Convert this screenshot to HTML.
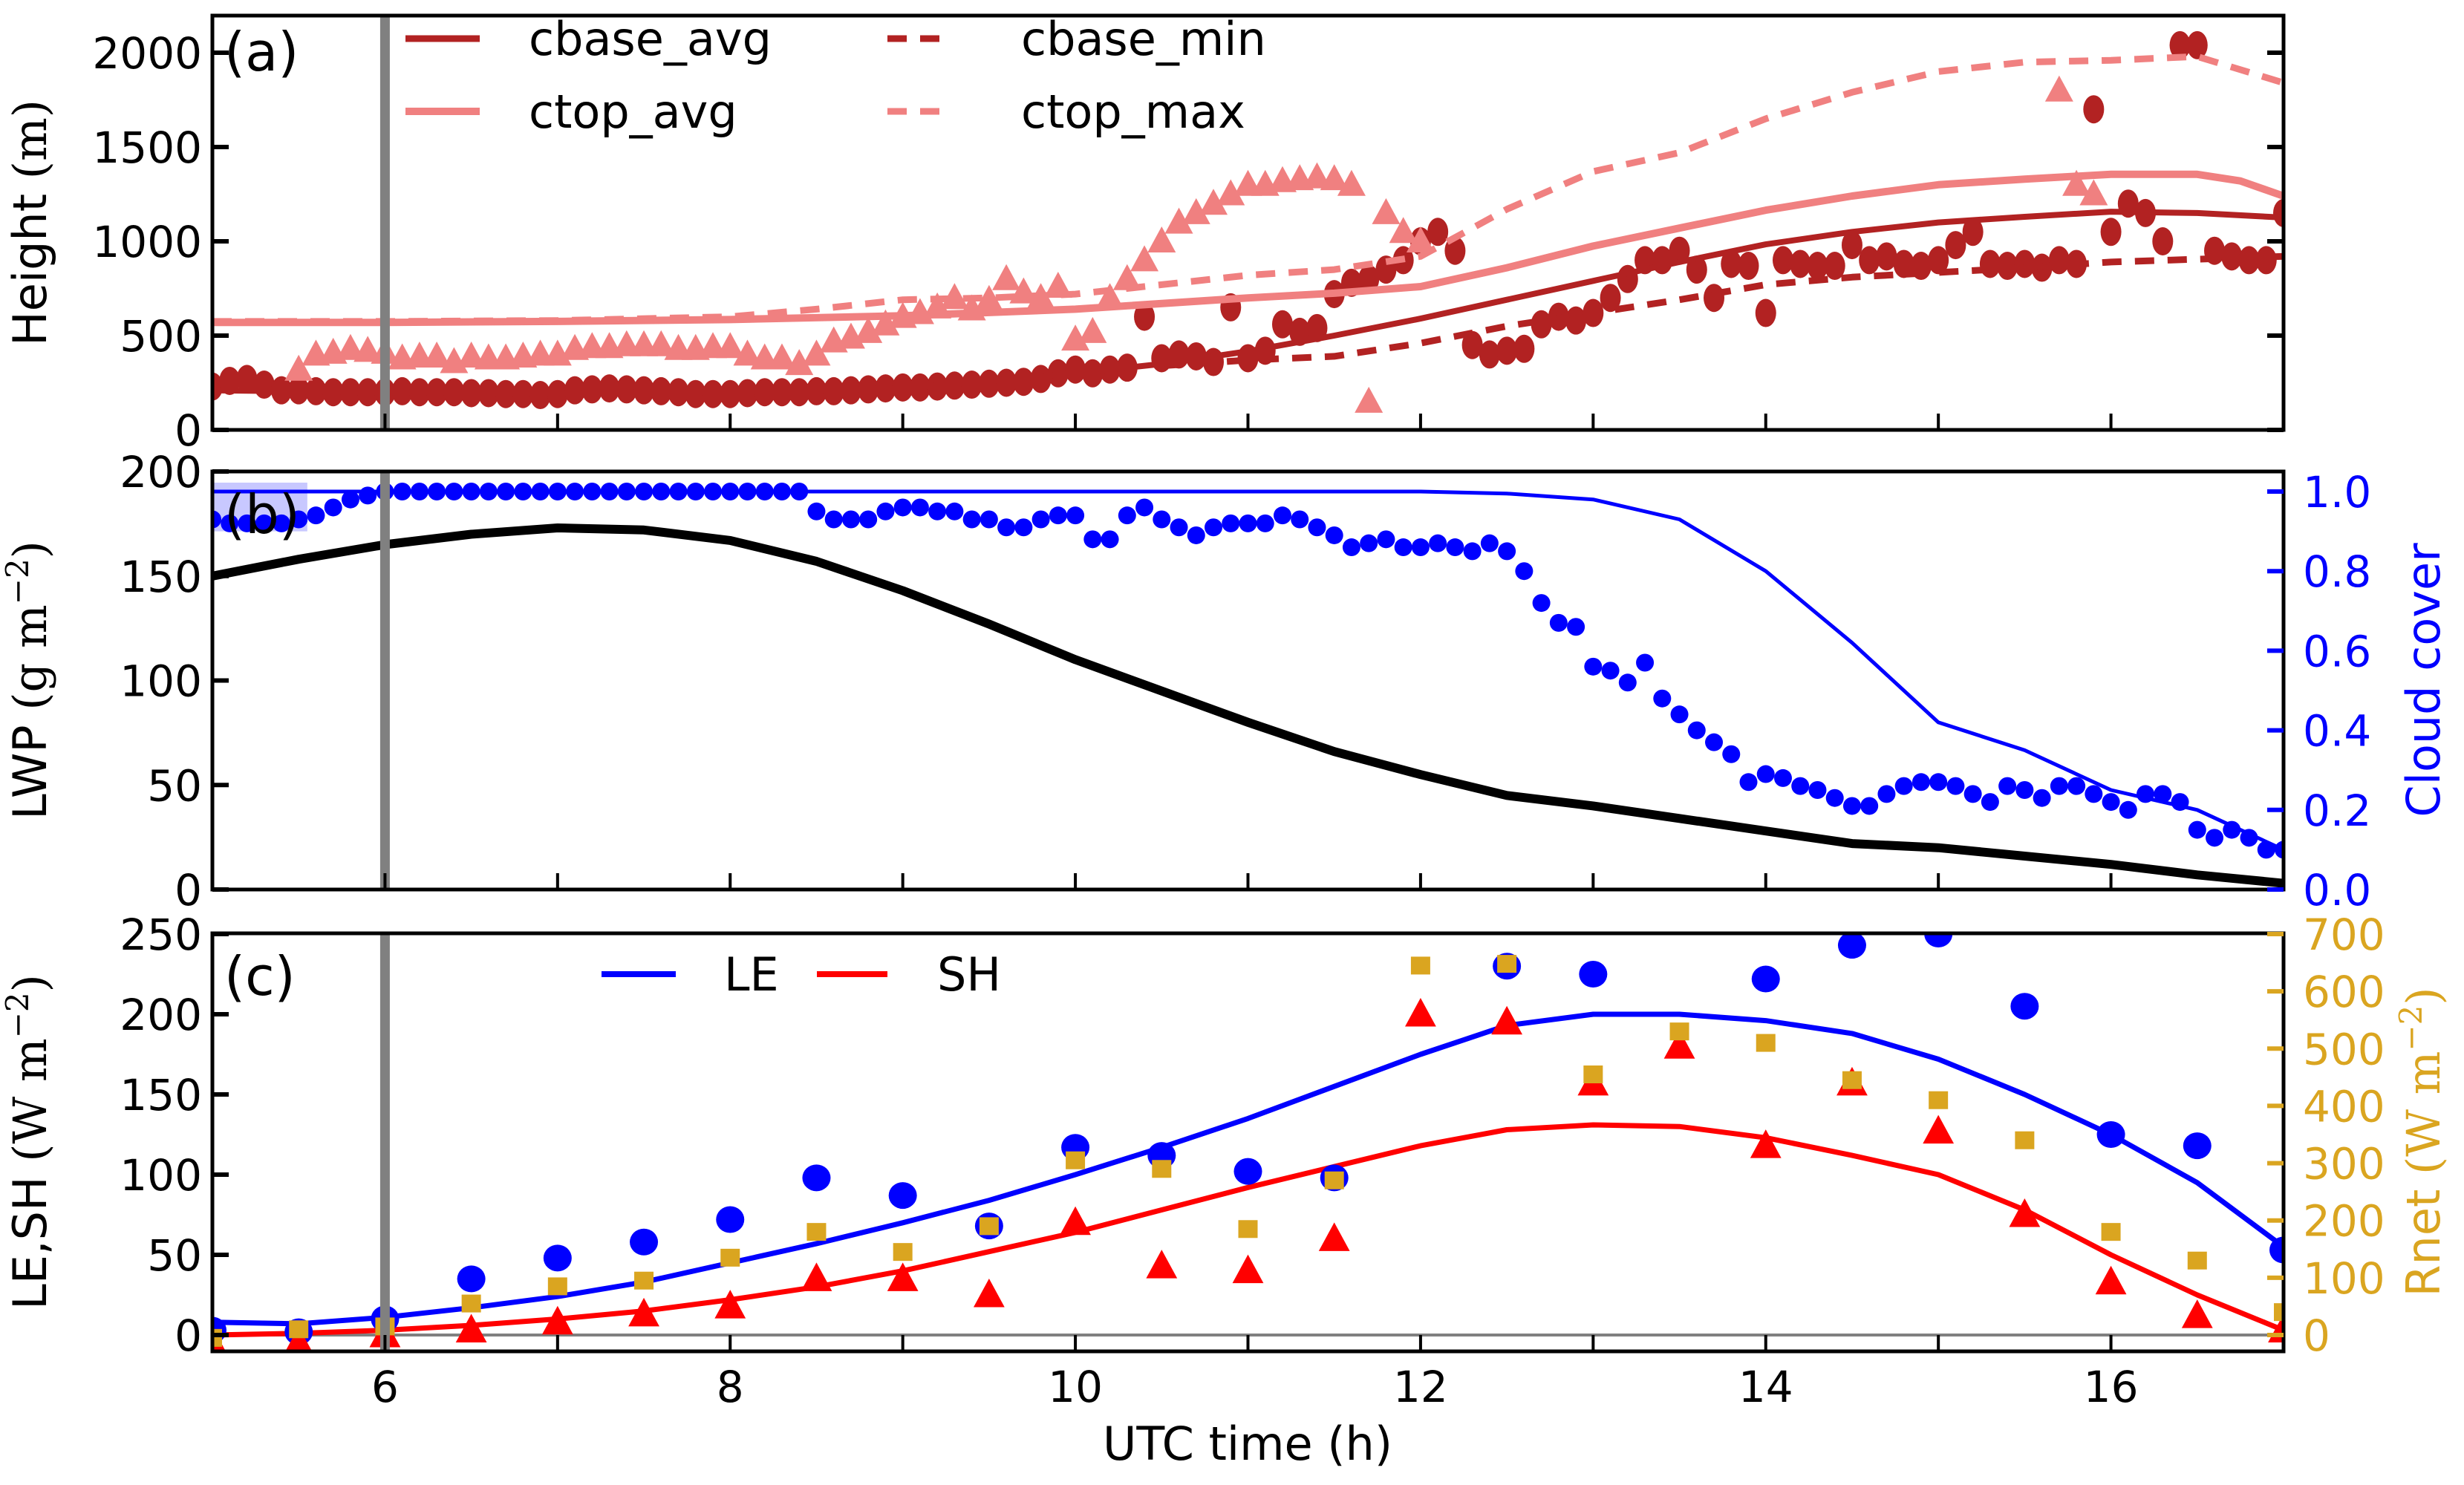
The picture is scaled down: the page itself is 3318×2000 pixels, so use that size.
<!DOCTYPE html>
<html><head><meta charset="utf-8">
<style>
html,body{margin:0;padding:0;background:#fff;}
svg{display:block;font-family:"DejaVu Sans","Liberation Sans",sans-serif;}
</style></head>
<body>
<svg id="chart" width="3318" height="2000" viewBox="0 0 3318 2000" xmlns="http://www.w3.org/2000/svg"></svg>
<script>
// ---------- DATA ----------
const hourlyTimes=[5,5.5,6,6.5,7,7.5,8,8.5,9,9.5,10,10.5,11,11.5,12,12.5,13,13.5,14,14.5,15,15.5,16,16.5,17];
// panel a
const cbaseAvgT=[5,6,7,8,9,10,10.5,11,11.5,12,12.5,13,13.5,14,14.5,15,15.5,16,16.5,17];
const cbaseAvgV=[210,200,195,200,220,300,350,417,500,590,690,790,890,984,1050,1100,1130,1157,1150,1126];
const ctopAvgT=[5,6,7,8,9,10,11,11.5,12,12.5,13,13.5,14,14.5,15,15.5,16,16.5,16.75,17];
const ctopAvgV=[570,570,575,585,605,640,700,725,760,860,975,1070,1165,1240,1300,1330,1355,1355,1320,1240];
const cbaseMinT=[10.5,11,11.5,12,12.5,13,13.5,14,14.5,15,15.5,16,16.5,17];
const cbaseMinV=[340,370,390,460,550,620,690,770,810,835,860,890,905,920];
const ctopMaxT=[5,6,7,8,8.5,9,9.5,10,10.5,11,11.5,12,12.5,13,13.5,14,14.5,15,15.5,16,16.5,17];
const ctopMaxV=[575,575,580,600,640,690,700,720,770,820,850,920,1170,1370,1470,1650,1790,1900,1950,1960,1980,1840];
// scatter every 0.1 h from 5.0
const cbasePts=[230,260,270,240,210,210,205,200,200,200,
 200,205,200,200,200,195,195,190,190,185,
 190,210,215,220,215,210,205,200,190,190,
 190,195,200,200,200,205,205,210,215,220,
 225,225,230,235,240,245,250,255,270,300,
 320,300,320,330,600,380,400,390,360,650,
 380,420,560,520,540,720,780,800,850,900,
 1000,1050,950,450,400,420,430,560,600,580,
 620,700,800,900,900,950,850,700,880,870,
 620,900,880,870,870,980,900,920,880,870,
 900,980,1050,880,870,880,860,900,880,1700,
 1050,1200,1150,1000,2040,2040,950,920,900,900,1150];
const ctopPts=[null,null,null,null,null,320,400,410,430,420,
 410,380,390,390,360,390,380,380,390,400,
 400,430,440,440,450,450,450,430,430,440,
 440,400,380,380,350,400,470,490,520,560,
 600,620,650,700,640,690,800,730,700,760,
 480,520,700,800,900,1000,1100,1150,1200,1250,
 1300,1300,1320,1330,1340,1330,1300,150,1150,1050,
 1000,null,null,null,null,null,null,null,null,null,
 null,null,null,null,null,null,null,null,null,null,
 null,null,null,null,null,null,null,null,null,null,
 null,null,null,null,null,null,null,1800,1300,1250,
 null,null,null,null,null,null,null,null,null,null,null];
// panel b
const lwpT=[5,5.5,6,6.5,7,7.5,8,8.5,9,9.5,10,10.5,11,11.5,12,12.5,13,13.5,14,14.5,15,15.5,16,16.5,17];
const lwpV=[150,158,165,170,173,172,167,157,143,127,110,95,80,66,55,45,40,34,28,22,20,16,12,7,3];
const ccLineT=[5,12,12.5,13,13.5,14,14.5,15,15.5,16,16.5,17];
const ccLineV=[1.0,1.0,0.995,0.98,0.93,0.8,0.62,0.42,0.35,0.25,0.2,0.1];
const ccPts=[0.93,0.92,0.92,0.92,0.92,0.93,0.94,0.96,0.98,0.99,
 1,1,1,1,1,1,1,1,1,1, 1,1,1,1,1,1,1,1,1,1, 1,1,1,1,1,0.95,0.93,0.93,0.93,0.95,
 0.96,0.96,0.95,0.95,0.93,0.93,0.91,0.91,0.93,0.94,
 0.94,0.88,0.88,0.94,0.96,0.93,0.91,0.89,0.91,0.92,
 0.92,0.92,0.94,0.93,0.91,0.89,0.86,0.87,0.88,0.86,
 0.86,0.87,0.86,0.85,0.87,0.85,0.80,0.72,0.67,0.66,
 0.56,0.55,0.52,0.57,0.48,0.44,0.40,0.37,0.34,0.27,
 0.29,0.28,0.26,0.25,0.23,0.21,0.21,0.24,0.26,0.27,
 0.27,0.26,0.24,0.22,0.26,0.25,0.23,0.26,0.26,0.24,
 0.22,0.20,0.24,0.24,0.22,0.15,0.13,0.15,0.13,0.10,0.10];
// panel c
const leLineV=[8,7,11,17,24,33,45,57,70,84,100,117,135,155,175,193,200,200,196,188,172,150,125,95,55];
const shLineV=[0,1,3,6,10,15,22,30,40,52,64,78,92,105,118,128,131,130,123,112,100,78,50,25,3];
const lePts=[3,2,10,35,48,58,72,98,87,68,117,112,102,98,null,230,225,null,222,243,250,205,125,118,53];
const shPts=[-5,-5,0,3,8,13,18,35,35,25,70,43,40,60,200,195,157,180,118,157,127,75,33,12,3];
const rnetPts=[-5,10,15,55,85,95,135,180,145,190,305,290,185,270,645,648,455,530,510,445,410,340,180,130,40];
// ticks
const xTicks=[6,8,10,12,14,16];
const aTicks=[0,500,1000,1500,2000];
const bTicks=[0,50,100,150,200];
const ccTicks=[0.0,0.2,0.4,0.6,0.8,1.0];
const cTicks=[0,50,100,150,200,250];
const rTicks=[0,100,200,300,400,500,600,700];

// ---------- SCALES ----------
const X0=286,X1=3075;
const sx=t=>X0+(t-5)*(X1-X0)/12;
const PA={top:21,bot:579},PB={top:635,bot:1198},PC={top:1257,bot:1820};
const ya=v=>579-v*0.254;
const yb=v=>1198-v*2.815;
const ycc=v=>1198-v*536;
const yc=v=>1798-v*2.16;
const yr=v=>1798-v*(540/700);

const svg=document.getElementById('chart');
const NS='http://www.w3.org/2000/svg';
function mk(tag,attrs,parent){const e=document.createElementNS(NS,tag);for(const k in attrs)e.setAttribute(k,attrs[k]);(parent||svg).appendChild(e);return e;}
function group(name){const g=mk('g',{});return g;}
function clip(id,p){const c=mk('clipPath',{id:id});mk('rect',{x:X0,y:p.top,width:X1-X0,height:p.bot-p.top},c);}
clip('ca',PA);clip('cb',PB);clip('cc',PC);
function pathD(ts,vs,fy){let d='';ts.forEach((t,i)=>{if(vs[i]==null)return;d+=(d?'L':'M')+sx(t).toFixed(1)+','+fy(vs[i]).toFixed(1);});return d;}
function line(name,ts,vs,fy,color,w,dash,cl){const p=mk('path',{d:pathD(ts,vs,fy),fill:'none',stroke:color,'stroke-width':w,'stroke-linejoin':'round','clip-path':'url(#'+cl+')'});if(dash)p.setAttribute('stroke-dasharray',dash);return p;}
function tri(g,cx,cy,r,color){mk('polygon',{points:`${cx},${cy-r} ${cx-r*0.95},${cy+r*0.75} ${cx+r*0.95},${cy+r*0.75}`,fill:color},g);}
function text(str,x,y,size,anchor,color,extra){const t=mk('text',Object.assign({x:x,y:y,'font-size':size,'text-anchor':anchor||'start',fill:color||'#000'},extra||{}));t.textContent=str;return t;}

// ---------- PANEL A ----------
const gA=group('panel-a');
const gAc=mk('g',{'clip-path':'url(#ca)'},gA);
cbasePts.forEach((v,i)=>{if(v==null)return;const c=mk('ellipse',{cx:sx(5+i*0.1),cy:ya(v),rx:14,ry:19,fill:'#b22222'},gAc);});
const gAt=mk('g',{'clip-path':'url(#ca)'},gA);
ctopPts.forEach((v,i)=>{if(v==null)return;tri(gAt,sx(5+i*0.1),ya(v),20,'#f08080');});
gA.appendChild(line('ctop-max-line',ctopMaxT,ctopMaxV,ya,'#f08080',9,'26,18','ca'));
gA.appendChild(line('cbase-min-line',cbaseMinT,cbaseMinV,ya,'#b22222',9,'26,18','ca'));
gA.appendChild(line('ctop-avg-line',ctopAvgT,ctopAvgV,ya,'#f08080',10,null,'ca'));
gA.appendChild(line('cbase-avg-line',cbaseAvgT,cbaseAvgV,ya,'#b22222',8,null,'ca'));

// ---------- PANEL B ----------
const gB=group('panel-b');
mk('rect',{x:sx(5),y:ycc(1.0)-12,width:sx(5.55)-sx(5),height:ycc(0.9)-ycc(1.0)+12,fill:'#c8c8ff'},gB);
gB.appendChild(line('lwp-line',lwpT,lwpV,yb,'#000',12,null,'cb'));
gB.appendChild(line('cloud-cover-line',ccLineT,ccLineV,ycc,'#0000ff',5,null,'cb'));
const gBp=mk('g',{'clip-path':'url(#cb)'},gB);
ccPts.forEach((v,i)=>{const c=mk('ellipse',{cx:sx(5+i*0.1),cy:ycc(v),rx:12,ry:12,fill:'#0000ff'},gBp);});

// ---------- PANEL C ----------
const gC=group('panel-c');
mk('line',{x1:X0,x2:X1,y1:yc(0),y2:yc(0),stroke:'#808080','stroke-width':4},gC);
gC.appendChild(line('le-line',hourlyTimes,leLineV,yc,'#0000ff',7,null,'cc'));
gC.appendChild(line('sh-line',hourlyTimes,shLineV,yc,'#ff0000',7,null,'cc'));
const gCp=mk('g',{'clip-path':'url(#cc)'},gC);
lePts.forEach((v,i)=>{if(v==null)return;const c=mk('ellipse',{cx:sx(hourlyTimes[i]),cy:yc(v),rx:19,ry:18,fill:'#0000ff'},gCp);});
shPts.forEach((v,i)=>{tri(gCp,sx(hourlyTimes[i]),yc(v),22,'#ff0000');});
rnetPts.forEach((v,i)=>{const r=mk('rect',{x:sx(hourlyTimes[i])-13,y:yr(v)-12,width:26,height:24,fill:'#daa520'},gCp);});

// ---------- GREY LINE + FRAMES + TICKS ----------
[PA,PB,PC].forEach(p=>{mk('line',{x1:sx(6),x2:sx(6),y1:p.top,y2:p.bot,stroke:'#808080','stroke-width':13});});
[PA,PB,PC].forEach((p,pi)=>{
  const f=mk('rect',{x:X0,y:p.top,width:X1-X0,height:p.bot-p.top,fill:'none',stroke:'#000','stroke-width':5});
  
  for(let h=5;h<=17;h++){mk('line',{x1:sx(h),x2:sx(h),y1:p.bot,y2:p.bot-22,stroke:'#000','stroke-width':4});}
});
function yTicks(vals,fy,side,color,fmt,noLabel){
  vals.forEach(v=>{const y=fy(v);
    if(side==='l'){mk('line',{x1:X0,x2:X0+22,y1:y,y2:y,stroke:color,'stroke-width':6});if(!noLabel)text(fmt(v),X0-14,y+21,58,'end',color);}
    else{mk('line',{x1:X1,x2:X1-22,y1:y,y2:y,stroke:color,'stroke-width':6});if(!noLabel)text(fmt(v),X1+26,y+21,58,'start',color);}
  });
}
yTicks(aTicks,ya,'l','#000',v=>String(v));
yTicks(aTicks,ya,'r','#000',v=>String(v),true);
yTicks(bTicks,yb,'l','#000',v=>String(v));
yTicks(ccTicks,ycc,'r','#0000ff',v=>v.toFixed(1));
yTicks(cTicks,yc,'l','#000',v=>String(v));
yTicks(rTicks,yr,'r','#daa520',v=>String(v));
xTicks.forEach(t=>{const e=text(String(t),sx(t),1888,58,'middle');});

// ---------- LABELS ----------
function vlabel(name,parts,x,y,color){const t=mk('text',{x:x,y:y,'font-size':62,'text-anchor':'middle',fill:color,transform:`rotate(-90 ${x} ${y})`});
  parts.forEach(p=>{const s=mk('tspan',{},t);if(p.serif)s.setAttribute('font-family','"DejaVu Serif","Liberation Serif",serif');if(p.sup){s.setAttribute('baseline-shift','super');s.setAttribute('font-size',42);}s.textContent=p.t;});}
vlabel('y-axis-title-height',[{t:'Height '},{t:'(m)',serif:1}],62,300,'#000');
vlabel('y-axis-title-lwp',[{t:'LWP '},{t:'(g m',serif:1},{t:'−2',serif:1,sup:1},{t:')',serif:1}],62,916,'#000');
vlabel('y-axis-title-flux',[{t:'LE,SH '},{t:'(W m',serif:1},{t:'−2',serif:1,sup:1},{t:')',serif:1}],62,1538,'#000');
vlabel('y-axis-title-cloud',[{t:'Cloud cover'}],3285,916,'#0000ff');
vlabel('y-axis-title-rnet',[{t:'Rnet '},{t:'(W m',serif:1},{t:'−2',serif:1,sup:1},{t:')',serif:1}],3285,1538,'#daa520');
const xt=text('UTC time (h)',1680,1966,62,'middle');
[['(a)',95],['(b)',718],['(c)',1340]].forEach(([s,y])=>{const e=text(s,302,y,72,'start');});

// ---------- LEGENDS ----------
function legend(name,x1,x2,y,color,w,dash,label,tx){const g=group(name);
  const l=mk('line',{x1:x1,x2:x2,y1:y,y2:y,stroke:color,'stroke-width':w},g);if(dash)l.setAttribute('stroke-dasharray',dash);
  const t=text(label,tx,y+22,62,'start','#000');g.appendChild(t);}
legend('legend-cbase-avg',546,646,52,'#b22222',9,null,'cbase_avg',712);
legend('legend-ctop-avg',546,646,150,'#f08080',10,null,'ctop_avg',712);
legend('legend-cbase-min',1195,1275,52,'#b22222',9,'26,18','cbase_min',1375);
legend('legend-ctop-max',1195,1275,150,'#f08080',9,'26,18','ctop_max',1375);
legend('legend-le',810,910,1312,'#0000ff',8,null,'LE',975);
legend('legend-sh',1100,1195,1312,'#ff0000',8,null,'SH',1262);
</script>
</body></html>
